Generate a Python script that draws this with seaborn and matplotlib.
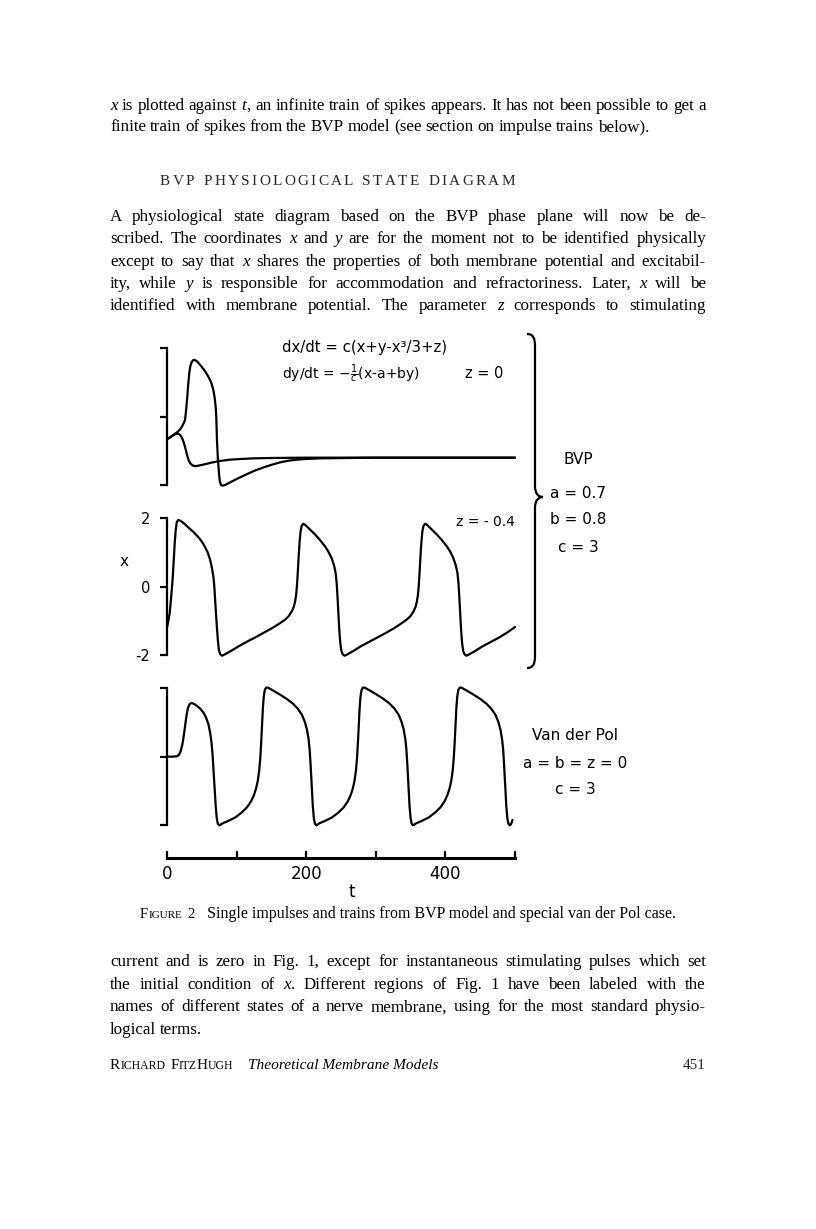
import numpy as np
import pandas as pd
import seaborn as sns
import matplotlib.pyplot as plt
import matplotlib.transforms as mtransforms
from matplotlib.path import Path
from matplotlib.patches import PathPatch

# ---- data: (t, x) points ----
bvp_z0_spike = [(0, -0.66), (5, -0.6), (10, -0.52), (15, -0.45), (19, -0.37), (22, -0.27),
                (24.5, -0.17), (25.9, -0.1), (27.5, 0.2), (29, 0.55), (30.5, 0.95), (32, 1.27),
                (33.5, 1.48), (35.5, 1.6), (38, 1.66), (40, 1.66), (44, 1.6), (49.8, 1.46),
                (55, 1.32), (59.4, 1.17), (63.5, 1.0), (66.6, 0.78), (68.5, 0.55), (69.9, 0.29),
                (70.8, 0.0), (71.8, -0.68), (73, -1.2), (74.7, -1.66), (76, -1.9), (77.6, -2.0),
                (80, -2.02), (83.3, -2.0), (90, -1.93), (102.5, -1.8), (114, -1.69), (126, -1.58),
                (138, -1.49), (150, -1.41), (162, -1.34), (174, -1.29), (186, -1.26), (198, -1.24),
                (220, -1.22), (260, -1.21), (300, -1.2), (400, -1.2), (500, -1.2)]
bvp_z0_sub = [(0, -0.66), (5, -0.6), (10, -0.53), (14, -0.5), (16.5, -0.5), (19, -0.54),
              (21.5, -0.62), (24, -0.75), (26.5, -0.93), (28.5, -1.1), (31, -1.27), (33.5, -1.37),
              (37, -1.43), (41, -1.45), (46, -1.43), (55, -1.39), (65, -1.34), (75, -1.3),
              (90, -1.26), (105, -1.24), (125, -1.22), (150, -1.21), (200, -1.2), (500, -1.2)]
bvp_z04 = [(0, -1.2), (2, -1.0), (4, -0.75), (6, -0.3), (8, 0.2), (9.5, 0.7), (11, 1.25),
           (12.5, 1.65), (14, 1.88), (16, 1.95), (19, 1.93), (24, 1.86), (30.7, 1.73), (38, 1.6),
           (45, 1.45), (50, 1.32), (54.6, 1.16), (58.5, 1.0), (61.8, 0.8), (64.5, 0.55),
           (66.6, 0.3), (68, 0.0), (69.5, -0.5), (71.4, -1.1), (73, -1.55), (74.5, -1.85),
           (76.5, -1.98), (79, -2.02), (81.5, -2.0), (92, -1.88), (102.5, -1.75), (114, -1.62),
           (126.4, -1.49), (138, -1.36), (150.4, -1.22), (160, -1.1), (169.5, -0.97),
           (175, -0.86), (179, -0.73), (182, -0.6), (184, -0.44), (185.5, -0.25), (186.8, 0.05),
           (188, 0.45), (189.2, 0.9), (190.5, 1.3), (191.8, 1.6), (193.5, 1.78), (195.9, 1.84),
           (199, 1.8), (205, 1.68), (212.6, 1.53), (220, 1.36), (227, 1.18), (232, 1.02),
           (236.6, 0.83), (240, 0.62), (242.3, 0.4), (243.8, 0.1), (245, -0.3), (246.3, -0.8),
           (247.5, -1.25), (249, -1.65), (250.5, -1.88), (252.5, -1.98), (255, -2.02),
           (257.5, -2.0), (268, -1.88), (278, -1.75), (290, -1.62), (302, -1.49), (314, -1.36),
           (326, -1.22), (335, -1.1), (344, -0.97), (350, -0.86), (354, -0.73), (357, -0.6),
           (359, -0.44), (360.5, -0.25), (361.8, 0.05), (363, 0.45), (364.2, 0.9), (365.5, 1.3),
           (366.8, 1.6), (368.5, 1.78), (371, 1.84), (374, 1.8), (380, 1.68), (387.5, 1.53),
           (395, 1.36), (402, 1.18), (407, 1.02), (411.5, 0.83), (415, 0.62), (417.3, 0.4),
           (418.8, 0.1), (420, -0.3), (421.3, -0.8), (422.5, -1.25), (424, -1.65),
           (425.5, -1.88), (427.5, -1.98), (430, -2.02), (432.5, -2.0), (443, -1.88),
           (453, -1.75), (465, -1.62), (477, -1.49), (489, -1.34), (500, -1.18)]
vdp = [(0, 0), (8, 0), (14, 0.01), (17, 0.05), (19.5, 0.15), (22, 0.35), (24, 0.6), (26, 0.9),
       (28, 1.2), (30, 1.42), (32.5, 1.54), (35, 1.57), (38, 1.55), (42, 1.5), (47, 1.42),
       (52, 1.3), (56, 1.15), (59.5, 0.95), (62, 0.7), (64, 0.4), (65.5, 0.05), (67, -0.45),
       (68.5, -0.95), (70, -1.45), (71.5, -1.8), (73, -1.96), (75, -2.01), (77, -1.99),
       (79, -1.96), (88, -1.88), (98, -1.78), (107, -1.64), (115, -1.48), (121, -1.3),
       (125, -1.12), (128, -0.93), (130.5, -0.7), (132.5, -0.4), (134, -0.05), (135.3, 0.4),
       (136.5, 0.9), (137.7, 1.4), (139, 1.75), (140.5, 1.95), (142.5, 2.02), (145, 2.02),
       (152, 1.94), (162, 1.82), (172, 1.69), (181, 1.55), (188, 1.4), (194, 1.22), (198, 1.02),
       (201, 0.8), (203.5, 0.5), (205, 0.2), (206.5, -0.3), (208, -0.9), (209.5, -1.45),
       (211, -1.8), (212.5, -1.96), (214.5, -2.01), (216.5, -1.99), (218, -1.96), (227, -1.88),
       (237, -1.78), (246, -1.64), (254, -1.48), (260, -1.3), (264, -1.12), (267, -0.93),
       (269.5, -0.7), (271.5, -0.4), (273, -0.05), (274.3, 0.4), (275.5, 0.9), (276.7, 1.4),
       (278, 1.75), (279.5, 1.95), (281.5, 2.02), (284, 2.02), (291, 1.94), (301, 1.82),
       (311, 1.69), (320, 1.55), (327, 1.4), (333, 1.22), (337, 1.02), (340, 0.8), (342.5, 0.5),
       (344, 0.2), (345.5, -0.3), (347, -0.9), (348.5, -1.45), (350, -1.8), (351.5, -1.96),
       (353.5, -2.01), (355.5, -1.99), (357, -1.96), (366, -1.88), (376, -1.78), (385, -1.64),
       (393, -1.48), (399, -1.3), (403, -1.12), (406, -0.93), (408.5, -0.7), (410.5, -0.4),
       (412, -0.05), (413.3, 0.4), (414.5, 0.9), (415.7, 1.4), (417, 1.75), (418.5, 1.95),
       (420.5, 2.02), (423, 2.02), (430, 1.94), (440, 1.82), (450, 1.69), (459, 1.55),
       (466, 1.4), (472, 1.22), (476, 1.02), (479, 0.8), (481.5, 0.5), (483, 0.2),
       (484.5, -0.3), (486, -0.9), (487.5, -1.45), (489, -1.8), (490.5, -1.96), (492.5, -2.01),
       (494.5, -1.97), (496.5, -1.85)]

y_ticks = [-2, 0, 2]
y_tick_labels = ["-2", "0", "2"]
t_ticks = [0, 100, 200, 300, 400, 500]
t_tick_labels = ["0", "", "200", "", "400", ""]

# page text
top_lines = ["_x_ is plotted against _t_, an infinite train of spikes appears. It has not been possible to get a",
             "finite train of spikes from the BVP model (see section on impulse trains below)."]
heading = "BVP PHYSIOLOGICAL STATE DIAGRAM"
para = ["A physiological state diagram based on the BVP phase plane will now be de-",
        "scribed. The coordinates _x_ and _y_ are for the moment not to be identified physically",
        "except to say that _x_ shares the properties of both membrane potential and excitabil-",
        "ity, while _y_ is responsible for accommodation and refractoriness. Later, _x_ will be",
        "identified with membrane potential. The parameter _z_ corresponds to stimulating"]
caption = "Single impulses and trains from BVP model and special van der Pol case."
bottom_lines = ["current and is zero in Fig. 1, except for instantaneous stimulating pulses which set",
                "the initial condition of _x_. Different regions of Fig. 1 have been labeled with the",
                "names of different states of a nerve membrane, using for the most standard physio-",
                "logical terms."]

sns.set_style("ticks")
plt.rcParams['font.family'] = ['DejaVu Sans']
SERIF = 'Liberation Serif'
SANS = 'DejaVu Sans'

fig = plt.figure(figsize=(8.16, 12.29), dpi=100)
px = mtransforms.Affine2D().scale(1 / 816, -1 / 1229).translate(0, 1) + fig.transFigure
renderer = fig.canvas.get_renderer()


def measure(s, size, family=SERIF, style='normal'):
    t = fig.text(0, 0, s, transform=px, fontsize=size, family=family, style=style)
    w = t.get_window_extent(renderer).width
    t.remove()
    return w


def parse(word):
    segs = word.split('_')
    return [(s, 'italic' if i % 2 else 'normal') for i, s in enumerate(segs) if s]


def natural_width(line, size):
    ws = [sum(measure(s, size, style=st) for s, st in parse(w)) for w in line.split()]
    return sum(ws) + (len(ws) - 1) * size * 100 / 72 * 0.25


def text_line(line, y, size, justify=True, x0=110, x1=706):
    words = []
    for w in line.split():
        arts = []
        for s, st in parse(w):
            t = fig.text(0, y, s, transform=px, fontsize=size, family=SERIF, style=st,
                         va='baseline', color='black')
            arts.append((t, t.get_window_extent(renderer).width))
        words.append(arts)
    widths = [sum(w for _, w in a) for a in words]
    if justify:
        gap = (x1 - x0 - sum(widths)) / (len(words) - 1)
    else:
        gap = size * 100 / 72 * 0.22
    x = x0
    for arts, wd in zip(words, widths):
        xx = x
        for t, w in arts:
            t.set_position((xx, y))
            xx += w
        x += wd + gap


def pieces(items, x, y, family=SERIF, style='normal'):
    for s, size in items:
        t = fig.text(x, y, s, transform=px, fontsize=size, family=family, style=style,
                     va='baseline', color='black')
        x += t.get_window_extent(renderer).width
    return x


def fit(s, x0, x1, y, size, family=SERIF, style='normal'):
    size = size * (x1 - x0) / measure(s, size, family, style)
    fig.text(x0, y, s, transform=px, fontsize=size, family=family, style=style,
             va='baseline', color='black')


# body font size chosen so the widest justified line fits the measure
just = [top_lines[0]] + para + bottom_lines[:3]
body = 11 * min(594 / natural_width(l, 11) for l in just)

text_line(top_lines[0], 110, body)
text_line(top_lines[1], 131, body, justify=False)

# letter-spaced heading
hs = 11
cw = [measure(c, hs) if c != ' ' else hs * 100 / 72 * 0.3 for c in heading]
track = (515 - 160 - sum(cw)) / (len(heading) - 1)
x = 160
for c, w in zip(heading, cw):
    if c != ' ':
        fig.text(x, 185, c, transform=px, fontsize=hs, family=SERIF, va='baseline')
    x += w + track

for i, l in enumerate(para):
    text_line(l, 221 + i * 22.3, body)

for i, l in enumerate(bottom_lines):
    text_line(l, 966 + i * 22.6, body, justify=(i < 3))

# caption
x = pieces([("F", 10.5), ("IGURE", 8)], 140, 918)
x = pieces([("2", 10.5)], x + 6, 918)
fit(caption, x + 12, 677, 918, 10)

# running footer
x = pieces([("R", 11), ("ICHARD", 8.5)], 110, 1069)
pieces([("F", 11), ("ITZ", 8.5), ("H", 11), ("UGH", 8.5)], x + 5, 1069)
fit("Theoretical Membrane Models", 248, 437, 1069, 11, style='italic')
fig.text(706, 1069, "451", transform=px, fontsize=11, family=SERIF, ha='right', va='baseline')


# ---- the three time-course panels ----
def panel(top, bottom, curves, labels=False):
    ax = fig.add_axes([167 / 816, 1 - bottom / 1229, 348 / 816, (bottom - top) / 1229])
    for c in curves:
        df = pd.DataFrame(c, columns=['t', 'x'])
        sns.lineplot(data=df, x='t', y='x', ax=ax, color='black', linewidth=1.6,
                     sort=False, estimator=None, clip_on=False)
    ax.set_xlim(0, 500)
    ax.set_ylim(-2, 2)
    for s in ['top', 'right', 'bottom']:
        ax.spines[s].set_visible(False)
    ax.spines['left'].set_linewidth(1.6)
    ax.spines['left'].set_color('black')
    ax.set_xticks([])
    ax.set_yticks(y_ticks)
    ax.set_yticklabels(y_tick_labels if labels else ["", "", ""])
    ax.tick_params(axis='y', direction='out', length=5, width=1.6, pad=7,
                   labelsize=10.5, color='black', labelcolor='black')
    ax.set_xlabel('')
    ax.set_ylabel('')
    ax.patch.set_alpha(0)
    return ax


panel(348.3, 485, [bvp_z0_spike, bvp_z0_sub])
panel(518.3, 655, [bvp_z04], labels=True)
panel(688.3, 825, [vdp])

# time axis
axt = fig.add_axes([167 / 816, 1 - 858 / 1229, 348 / 816, 0.002])
for s in ['top', 'right', 'left']:
    axt.spines[s].set_visible(False)
axt.spines['bottom'].set_linewidth(2.2)
axt.spines['bottom'].set_color('black')
axt.set_xlim(0, 500)
axt.set_xticks(t_ticks)
axt.set_xticklabels(t_tick_labels)
axt.set_yticks([])
axt.tick_params(axis='x', direction='in', length=5, width=1.6, pad=5, labelsize=12,
                color='black', labelcolor='black')
axt.patch.set_alpha(0)

# chart annotations
def note(x, y, s, size=11, ha='center'):
    fig.text(x, y, s, transform=px, fontsize=size, family=SANS, ha=ha, va='center', color='black')


note(352, 892, "t", 12)
note(124, 562, "x", 11)
fit("dx/dt = c(x+y-x\u00b3/3+z)", 282, 447, 352, 9, family=SANS)
fig.text(282, 379, r"dy/dt = $-\frac{1}{c}$(x-a+by)", transform=px, fontsize=10,
         family=SANS, va='baseline', color='black')
note(484, 374, "z = 0", 10.5)
note(485, 522, "z = - 0.4", 10)
note(578, 460, "BVP", 11)
note(578, 493, "a = 0.7", 11)
note(578, 520, "b = 0.8", 11)
note(578, 547, "c = 3", 11)
note(575, 736, "Van der Pol", 11)
note(575, 763, "a = b = z = 0", 11)
note(575, 790, "c = 3", 11)

# curly brace on the right of the BVP panels
verts = [(527, 334), (533, 334), (535, 338), (535, 346), (535, 486),
         (535, 493), (538, 497), (543, 497), (538, 497), (535, 501), (535, 508),
         (535, 656), (535, 664), (533, 668), (527, 668)]
codes = [Path.MOVETO] + [Path.CURVE4] * 3 + [Path.LINETO] + [Path.CURVE4] * 6 + \
        [Path.LINETO] + [Path.CURVE4] * 3
fig.add_artist(PathPatch(Path(verts, codes), transform=px, fill=False, lw=1.6, color='black'))

fig.savefig("out.png", dpi=100)
